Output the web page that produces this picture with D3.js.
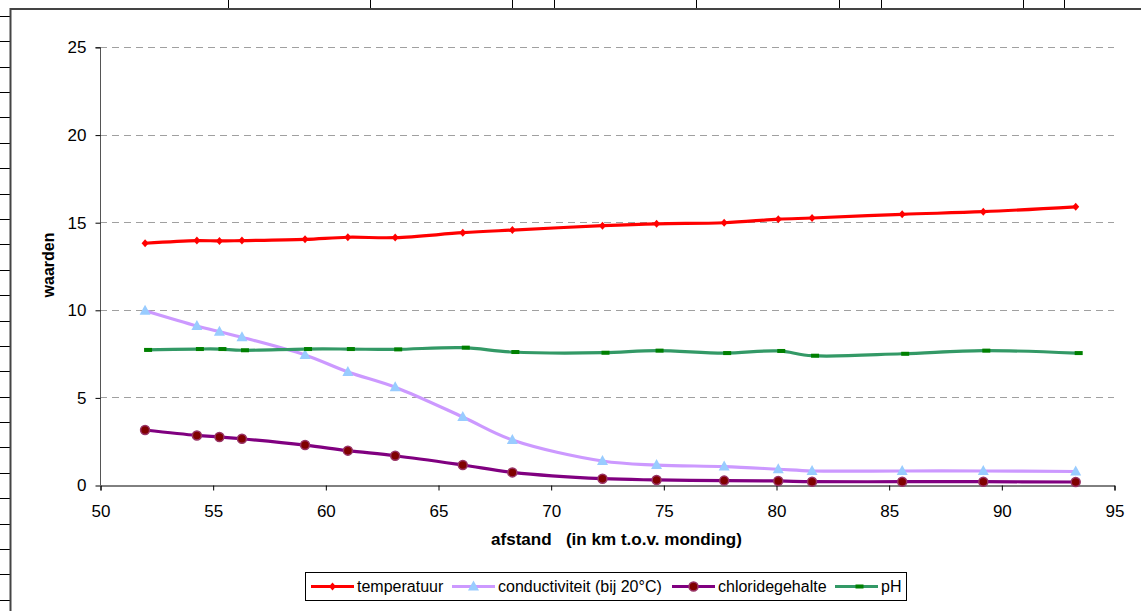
<!DOCTYPE html>
<html><head><meta charset="utf-8">
<script src="https://cdn.jsdelivr.net/npm/d3@7"></script>
<style>body{margin:0;background:#fff}svg{display:block;font-family:"Liberation Sans",Arial,sans-serif}</style>
</head><body><svg id="c" width="1141" height="611"></svg>
<script>
const afstand = [52.0,54.3,55.3,56.3,59.1,61.0,63.1,66.1,68.3,72.3,74.7,77.7,80.1,81.6,85.6,89.2,93.3];
const temperatuur = [13.8,13.95,13.93,13.95,14.02,14.14,14.12,14.4,14.55,14.8,14.91,14.97,15.17,15.24,15.45,15.6,15.88];
const conductiviteit = [9.95,9.08,8.75,8.43,7.42,6.45,5.58,3.88,2.57,1.37,1.14,1.05,0.9,0.8,0.8,0.8,0.77];
const chloridegehalte = [3.14,2.83,2.74,2.64,2.28,1.96,1.67,1.14,0.72,0.36,0.29,0.25,0.23,0.19,0.19,0.19,0.17];
const pH = [7.71,7.76,7.76,7.69,7.76,7.76,7.74,7.84,7.59,7.55,7.67,7.53,7.65,7.38,7.49,7.67,7.53];
const xTicks = [50,55,60,65,70,75,80,85,90,95];
const yTicks = [0,5,10,15,20,25];
const seriesNames = ["temperatuur","conductiviteit (bij 20°C)","chloridegehalte","pH"];

const svg = d3.select("#c");
// sheet background decoration
const deco = svg.append("g");
const colLines = [228,370,512,554,696,839,881,1023,1064];
colLines.forEach(x=>deco.append("line").attr("x1",x+0.5).attr("x2",x+0.5).attr("y1",0).attr("y2",8).attr("stroke","#000"));
for(let y=15.7;y<611;y+=25.4){deco.append("line").attr("x1",0).attr("x2",10).attr("y1",Math.round(y)+0.5).attr("y2",Math.round(y)+0.5).attr("stroke","#000");}
deco.append("path").attr("d","M10.5,611V9H1141").attr("fill","none").attr("stroke","#444").attr("stroke-width",2);

const x = d3.scaleLinear().domain([50,95]).range([100,1114]);
const y = d3.scaleLinear().domain([0,25]).range([485,47]);

// grid
svg.append("g").selectAll("line").data(yTicks.filter(d=>d>0)).join("line")
 .attr("x1",100).attr("x2",1114).attr("y1",d=>Math.round(y(d))+0.5).attr("y2",d=>Math.round(y(d))+0.5)
 .attr("stroke","#a0a0a0").attr("stroke-dasharray","7,5");

const yAxis = svg.append("g").attr("transform","translate(100.5,0.5)")
 .call(d3.axisLeft(y).tickValues(yTicks).tickSize(5).tickPadding(9));
yAxis.select(".domain").attr("stroke","#555").attr("d","M-5,"+y(25)+"H0V"+y(0));
yAxis.selectAll("text").attr("font-size",17).attr("fill","#000").attr("font-family","Liberation Sans, Arial");
const xAxis = svg.append("g").attr("transform","translate(0.5,485.5)")
 .call(d3.axisBottom(x).tickValues(xTicks).tickSize(5).tickPadding(14));
xAxis.select(".domain").attr("stroke","#000");
xAxis.selectAll("text").attr("font-size",17).attr("fill","#000").attr("font-family","Liberation Sans, Arial");

svg.append("text").attr("transform","translate(54,265) rotate(-90)").attr("text-anchor","middle")
 .attr("font-size",16).attr("font-weight","bold").text("waarden");
svg.append("text").attr("x",491).attr("y",545).style("white-space","pre")
 .attr("textLength",251).attr("lengthAdjust","spacingAndGlyphs")
 .attr("font-size",16.5).attr("font-weight","bold").text("afstand   (in km t.o.v. monding)");

const line = vals => d3.line().curve(d3.curveCatmullRom.alpha(0.5)).x((d,i)=>x(afstand[i])).y(d=>y(d))(vals);
const series = [
 {v:temperatuur,c:"#ff0000",m:"diamond"},
 {v:conductiviteit,c:"#cc99ff",m:"triangle"},
 {v:chloridegehalte,c:"#800080",m:"circle"},
 {v:pH,c:"#339966",m:"rect"}
];
function marker(g,type,cx,cy){
 if(type==="diamond") g.append("path").attr("d",`M${cx},${cy-4}L${cx+3.5},${cy}L${cx},${cy+4}L${cx-3.5},${cy}Z`).attr("fill","#ff0000");
 if(type==="triangle") g.append("path").attr("d",`M${cx},${cy-6}L${cx+5.5},${cy+4}L${cx-5.5},${cy+4}Z`).attr("fill","#99ccff");
 if(type==="circle") g.append("circle").attr("cx",cx).attr("cy",cy).attr("r",4.5).attr("fill","#800000").attr("stroke","#993366").attr("stroke-width",1.5);
 if(type==="rect") g.append("rect").attr("x",cx-1).attr("y",cy-2).attr("width",8).attr("height",4).attr("fill","#008000");
}
series.forEach(s=>{
 const g = svg.append("g");
 g.append("path").attr("d",line(s.v)).attr("fill","none").attr("stroke",s.c).attr("stroke-width",3.2).attr("stroke-linejoin","round");
 s.v.forEach((d,i)=>marker(g,s.m,x(afstand[i]),y(d)));
});

// legend
const lg = svg.append("g");
lg.append("rect").attr("x",305.5).attr("y",572.5).attr("width",601).attr("height",28).attr("fill","#fff").attr("stroke","#000");
const lx = [311,452,672,835];
seriesNames.forEach((n,i)=>{
 const s = series[i];
 lg.append("line").attr("x1",lx[i]).attr("x2",lx[i]+43).attr("y1",586.5).attr("y2",586.5).attr("stroke",s.c).attr("stroke-width",3.2);
 marker(lg,s.m,lx[i]+21.5,586.5);
 lg.append("text").attr("x",lx[i]+46).attr("y",592).attr("font-size",16).text(n);
});
</script></body></html>
